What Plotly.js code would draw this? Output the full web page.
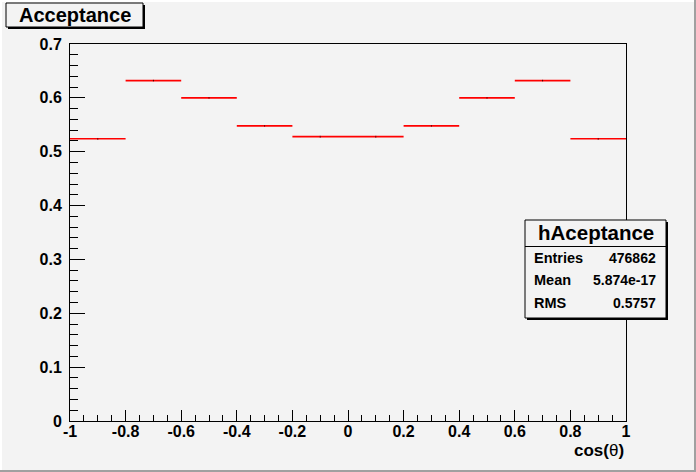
<!DOCTYPE html>
<html>
<head>
<meta charset="utf-8">
<script src="https://cdn.plot.ly/plotly-3.0.1.min.js"></script>
<style>
html,body{margin:0;padding:0;background:#f3f3f3;}
#chart{width:696px;height:472px;}
</style>
</head>
<body>
<div id="chart"></div>
<script>
// ---- data ----
var binCenters = [-0.9, -0.7, -0.5, -0.3, -0.1, 0.1, 0.3, 0.5, 0.7, 0.9];
var acceptance = [0.524, 0.632, 0.600, 0.548, 0.528, 0.528, 0.548, 0.600, 0.632, 0.524];
var binHalfWidth = [0.1, 0.1, 0.1, 0.1, 0.1, 0.1, 0.1, 0.1, 0.1, 0.1];
var statErrors = [0.0015, 0.0015, 0.0015, 0.0015, 0.0015, 0.0015, 0.0015, 0.0015, 0.0015, 0.0015];
var xTickVals = [-1, -0.8, -0.6, -0.4, -0.2, 0, 0.2, 0.4, 0.6, 0.8, 1];
var xTickText = ["-1", "-0.8", "-0.6", "-0.4", "-0.2", "0", "0.2", "0.4", "0.6", "0.8", "1"];
var yTickVals = [0, 0.1, 0.2, 0.3, 0.4, 0.5, 0.6, 0.7];
var yTickText = ["0", "0.1", "0.2", "0.3", "0.4", "0.5", "0.6", "0.7"];
var statLabels = ["Entries", "Mean", "RMS"];
var statValues = ["476862", "5.874e-17", "0.5757"];
var histName = "hAceptance";
var histTitle = "Acceptance";

// ---- layout helpers (pixel -> paper) ----
var W = 696, H = 472;
var L = 70, R = 626, T = 44, B = 421;
function px(x){ return (x - L) / (R - L); }
function py(y){ return (B - y) / (B - T); }
function rect(x0, y0, x1, y1, fill, lineColor, lw){
  return {type:'rect', xref:'paper', yref:'paper', x0:px(x0), x1:px(x1), y0:py(y1), y1:py(y0),
          fillcolor:fill, line:{color:lineColor || 'rgba(0,0,0,0)', width: lw===undefined?1:lw}, layer:'above'};
}
function lineShape(x0, y0, x1, y1, color, w){
  return {type:'line', xref:'paper', yref:'paper', x0:px(x0), x1:px(x1), y0:py(y0), y1:py(y1),
          line:{color:color, width:w}, layer:'above'};
}
var fontFam = '"Liberation Sans", Arial, Helvetica, sans-serif';
function ann(text, x, y, size, xanchor){
  return {text:text, xref:'paper', yref:'paper', x:px(x), y:py(y), xanchor:xanchor||'center', yanchor:'middle',
          showarrow:false, font:{family:fontFam, size:size, color:'black', weight:'bold'}};
}

var shapes = [
  // canvas border bevel
  rect(0, 0, 696, 2, '#ffffff', null, 0),
  rect(0, 0, 2, 472, '#ffffff', null, 0),
  rect(694, 0, 696, 472, '#a0a0a0', null, 0),
  rect(0, 470, 696, 472, '#a0a0a0', null, 0),
  // title box with shadow
  rect(8, 5, 145, 29, '#000000', null, 0),
  rect(6, 3, 143, 27, '#f3f3f3', '#000000', 1),
  // stats box with shadow
  rect(527, 222, 668, 320, '#000000', null, 0),
  rect(525, 220, 666, 318, '#f3f3f3', '#000000', 1),
  lineShape(525, 246.5, 666, 246.5, '#000000', 1)
];

var annotations = [
  ann(histTitle, 74.5, 15, 20),
  ann(histName, 595.5, 232, 20.5),
  ann('cos(<span style="font-weight:normal">θ</span>)', 626, 450, 17, 'right')
];
for (var i = 0; i < statLabels.length; i++) {
  var yy = 257.5 + i * 22.5;
  annotations.push(ann(statLabels[i], 532, yy, 14.5, 'left'));
  annotations.push(ann(statValues[i], 658, yy, 14, 'right'));
}

var trace = {
  x: binCenters, y: acceptance, type: 'scatter', mode: 'markers',
  marker: {size: 1, color: 'black'},
  error_x: {type: 'data', array: binHalfWidth, visible: true, color: '#ff0000', thickness: 1.6, width: 0},
  error_y: {type: 'data', array: statErrors, visible: true, color: '#000000', thickness: 1, width: 0},
  hoverinfo: 'x+y'
};

var tickFont = {family: fontFam, size: 16, color: 'black', weight: 'bold'};
var layout = {
  width: W, height: H,
  margin: {l: L, r: W - R, t: T, b: H - B, pad: 0},
  paper_bgcolor: '#f3f3f3', plot_bgcolor: '#f3f3f3',
  showlegend: false,
  xaxis: {
    range: [-1, 1], tickmode: 'array', tickvals: xTickVals, ticktext: xTickText,
    ticks: 'inside', ticklen: 11, tickwidth: 1, tickcolor: 'black',
    minor: {ticks: 'inside', dtick: 0.05, ticklen: 6, tickwidth: 1, tickcolor: 'black', showgrid: false},
    showgrid: false, zeroline: false, showline: true, linecolor: 'black', linewidth: 1, mirror: true,
    tickfont: tickFont, ticklabelstandoff: -4
  },
  yaxis: {
    range: [0, 0.7], tickmode: 'array', tickvals: yTickVals, ticktext: yTickText,
    ticks: 'inside', ticklen: 15, tickwidth: 1, tickcolor: 'black',
    minor: {ticks: 'inside', dtick: 0.02, ticklen: 8, tickwidth: 1, tickcolor: 'black', showgrid: false},
    showgrid: false, zeroline: false, showline: true, linecolor: 'black', linewidth: 1, mirror: true,
    tickfont: tickFont, ticklabelstandoff: 4
  },
  shapes: shapes,
  annotations: annotations
};

Plotly.newPlot('chart', [trace], layout, {staticPlot: true, displayModeBar: false});
</script>
</body>
</html>
